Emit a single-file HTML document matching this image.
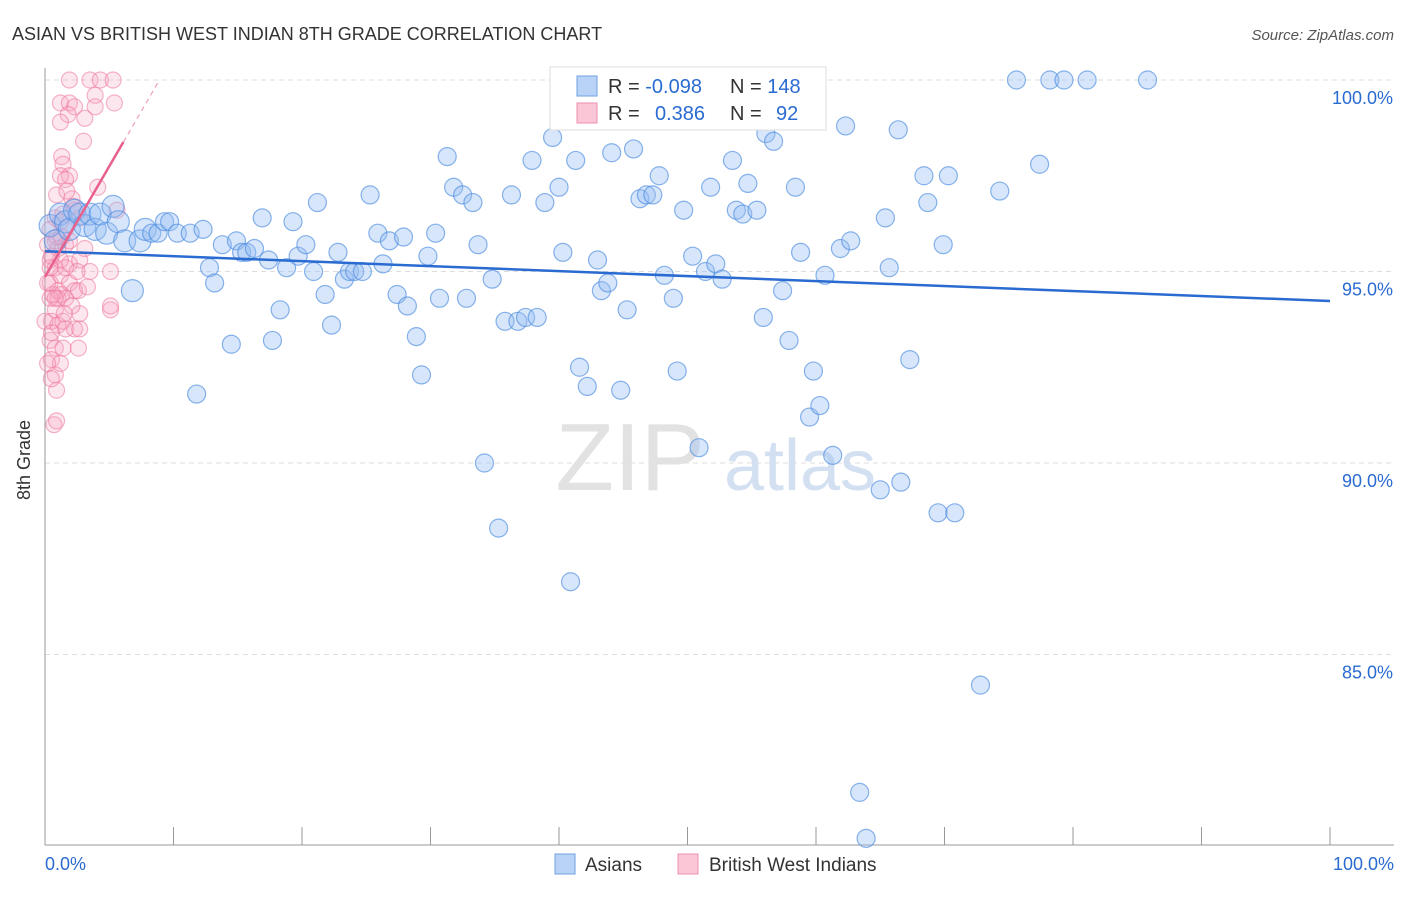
<!DOCTYPE html>
<html><head><meta charset="utf-8"><style>
body{margin:0;background:#fff;font-family:"Liberation Sans",sans-serif}
svg text{font-family:"Liberation Sans",sans-serif}
</style></head><body>
<svg id="chart" width="1406" height="892" viewBox="0 0 1406 892">
<text x="12" y="40" font-size="18" fill="#333">ASIAN VS BRITISH WEST INDIAN 8TH GRADE CORRELATION CHART</text>
<text x="1394" y="40" font-size="15" fill="#555" font-style="italic" text-anchor="end">Source: ZipAtlas.com</text>
<text x="30" y="460" font-size="18" fill="#333" transform="rotate(-90 30 460)" text-anchor="middle">8th Grade</text>
<g id="grid"></g>
<g id="wm"><text x="630" y="490" font-size="96" fill="#e2e2e2" font-family="Liberation Serif" text-anchor="middle">ZIP</text><text x="800" y="490" font-size="72" fill="#d3e0f2" text-anchor="middle">atlas</text></g>
<g id="pts"></g>
<g id="lines"></g>
<g>
<rect x="550" y="67" width="276" height="63" fill="#fff" stroke="#ddd"/>
<rect x="577" y="76" width="20" height="20" fill="#b9d3f6" stroke="#6fa0e6"/>
<rect x="577" y="103" width="20" height="20" fill="#fbc6d6" stroke="#ee8fae"/>
<text x="608" y="93" font-size="20" fill="#333">R = <tspan fill="#2a6bd1">-0.098</tspan></text>
<text x="730" y="93" font-size="20" fill="#333">N = <tspan fill="#2a6bd1">148</tspan></text>
<text x="608" y="120" font-size="20" fill="#333">R = <tspan fill="#2a6bd1" x="655">0.386</tspan></text>
<text x="730" y="120" font-size="20" fill="#333">N = <tspan fill="#2a6bd1" x="776">92</tspan></text>
</g>
<g>
<rect x="555" y="854" width="20" height="20" fill="#b9d3f6" stroke="#6fa0e6"/>
<text x="585" y="871" font-size="19" fill="#333">Asians</text>
<rect x="678" y="854" width="20" height="20" fill="#fbc6d6" stroke="#ee8fae"/>
<text x="709" y="871" font-size="19" fill="#333">British West Indians</text>
</g>
</svg>
<script>
const yTicks=[100,95,90,85];
const yTickLabels=["100.0%","95.0%","90.0%","85.0%"];
const xTickLabels=["0.0%","100.0%"];
const asianX=[0.4,0.8,1.2,1.6,1.9,2.3,2.7,3.1,3.5,3.9,4.3,4.8,5.3,5.7,6.2,6.8,7.4,7.8,8.3,8.8,9.3,9.7,10.3,11.3,11.8,12.3,12.8,13.2,13.8,14.5,14.9,15.3,15.7,16.3,16.9,17.4,17.7,18.3,18.8,19.3,19.7,20.3,20.9,21.2,21.8,22.3,22.8,23.3,23.7,24.1,24.7,25.3,25.9,26.3,26.8,27.4,27.9,28.2,28.9,29.3,29.8,30.4,30.7,31.3,31.8,32.5,32.8,33.3,33.7,34.2,34.8,35.3,35.8,36.3,36.8,37.4,37.9,38.3,38.9,39.5,40.0,40.3,40.9,41.3,41.6,42.2,43.0,43.3,43.8,44.1,44.8,45.3,45.8,46.3,46.8,47.3,47.8,48.2,48.9,49.2,49.7,50.4,50.9,51.4,51.8,52.2,52.7,53.5,53.8,54.3,54.7,55.4,55.9,56.1,56.7,57.4,57.9,58.4,58.8,59.5,59.8,60.3,60.7,61.3,61.9,62.3,62.7,63.9,63.4,65.0,65.4,65.7,66.4,66.6,67.3,68.4,68.7,69.5,69.9,70.3,70.8,72.8,74.3,75.6,77.4,78.2,79.3,81.1,85.8];
const asianY=[96.2,95.8,96.5,96.3,96.1,96.6,96.5,96.2,96.5,96.1,96.5,96.0,96.7,96.3,95.8,94.5,95.8,96.1,96.0,96.0,96.3,96.3,96.0,96.0,91.8,96.1,95.1,94.7,95.7,93.1,95.8,95.5,95.5,95.6,96.4,95.3,93.2,94.0,95.1,96.3,95.4,95.7,95.0,96.8,94.4,93.6,95.5,94.8,95.0,95.0,95.0,97.0,96.0,95.2,95.8,94.4,95.9,94.1,93.3,92.3,95.4,96.0,94.3,98.0,97.2,97.0,94.3,96.8,95.7,90.0,94.8,88.3,93.7,97.0,93.7,93.8,97.9,93.8,96.8,98.5,97.2,95.5,86.9,97.9,92.5,92.0,95.3,94.5,94.7,98.1,91.9,94.0,98.2,96.9,97.0,97.0,97.5,94.9,94.3,92.4,96.6,95.4,90.4,95.0,97.2,95.2,94.8,97.9,96.6,96.5,97.3,96.6,93.8,98.6,98.4,94.5,93.2,97.2,95.5,91.2,92.4,91.5,94.9,90.2,95.6,98.8,95.8,80.2,81.4,89.3,96.4,95.1,98.7,89.5,92.7,97.5,96.8,88.7,95.7,97.5,88.7,84.2,97.1,100,97.8,100,100,100,100];
const bwiX=[1.9,3.5,4.3,5.3,3.9,1.2,1.9,2.3,1.8,3.1,1.2,5.4,1.3,1.4,1.9,1.2,3.0,0.9,1.6,4.1,2.1,0.8,1.4,2.3,5.6,0.4,0.8,1.0,1.6,0.4,0.8,1.2,1.9,2.7,0.4,1.0,1.3,1.9,2.3,3.5,5.1,0.4,0.8,1.6,2.6,5.1,0.5,1.0,1.4,2.7,0.4,0.8,1.6,2.3,2.6,0.5,0.8,0.9,0.7,0.9,0.5,1.2,1.2,1.6,1.9,0.5,3.1,0.2,0.4,0.6,5.1,3.3,1.3,1.6,2.1,0,0.2,0.9,1.2,3.9,1.7,2.2,2.7,1.0,1.5,2.5,0.2,0.5,0.8,2.7,1.4];
const bwiY=[100,100,100,100,99.6,99.4,99.4,99.3,99.1,99.0,98.9,99.4,98.0,97.8,97.5,97.5,98.4,97.0,97.4,97.2,96.9,96.4,96.5,96.6,96.6,96.1,95.8,95.6,95.7,95.3,95.1,94.9,95.2,95.3,94.7,94.5,94.4,94.7,94.5,95.0,95.0,94.3,94.0,94.3,94.5,94.0,93.7,93.6,93.7,93.9,93.2,93.0,93.5,93.5,93.0,92.7,92.3,91.9,91.0,91.1,92.2,92.6,95.3,96.1,95.8,95.4,95.6,95.7,95.1,94.4,94.1,94.6,95.9,95.1,94.1,93.7,94.7,95.9,96.3,99.3,97.1,96.7,96.4,94.3,93.9,95.0,92.6,93.4,94.3,93.5,93.0];
const asianTrend=[95.53,94.23];
const bwiTrend=[94.86,0.577];
const X0=45,X1=1330,Y100=80,PXPER=38.3;
const sx=v=>X0+(X1-X0)*v/100;
const sy=v=>Y100+(100-v)*PXPER;
const NS="http://www.w3.org/2000/svg";
function mk(tag,attrs,parent){const e=document.createElementNS(NS,tag);for(const k in attrs)e.setAttribute(k,attrs[k]);parent.appendChild(e);return e;}
const grid=document.getElementById('grid');
yTicks.forEach((t,i)=>{
 const l=mk('line',{x1:X0,x2:1394,y1:sy(t),y2:sy(t),stroke:'#ddd','stroke-dasharray':'5,4'},grid);
 
 
 const tx=mk('text',{x:1393,y:sy(t)+24,'font-size':18,fill:'#2a6bd1','text-anchor':'end'},grid);
 tx.textContent=yTickLabels[i];
 
 
});
const ax=mk('line',{x1:X0,x2:X0,y1:68,y2:845,stroke:'#999'},grid);


const bx=mk('line',{x1:X0,x2:1394,y1:845,y2:845,stroke:'#999'},grid);


for(let i=0;i<=10;i++){const t=mk('line',{x1:sx(i*10),x2:sx(i*10),y1:827,y2:845,stroke:'#999'},grid);
 
 }
[[0,'start',45],[100,'end',1394]].forEach((d,i)=>{const t=mk('text',{x:d[2],y:870,'font-size':18,fill:'#2a6bd1','text-anchor':d[1]},grid);t.textContent=xTickLabels[i];
 
 });
const pts=document.getElementById('pts');
bwiX.forEach((x,i)=>{const c=mk('circle',{cx:sx(x),cy:sy(bwiY[i]),r:8,fill:'rgba(246,160,190,0.25)',stroke:'rgba(236,120,155,0.55)','stroke-width':1.2},pts);
 
 });
asianX.forEach((x,i)=>{const r=x<8?11:9;const c=mk('circle',{cx:sx(x),cy:sy(asianY[i]),r:r,fill:'rgba(150,190,242,0.38)',stroke:'rgba(75,140,225,0.65)','stroke-width':1.2},pts);
 
 });
const lines=document.getElementById('lines');
const at=mk('line',{x1:sx(0),y1:sy(asianTrend[0]),x2:sx(100),y2:sy(asianTrend[1]),stroke:'#2a6bd1','stroke-width':2.5},lines);


const bt=mk('line',{x1:sx(0),y1:sy(bwiTrend[0]),x2:sx(6.1),y2:sy(bwiTrend[0]+bwiTrend[1]*6.1),stroke:'#e8608c','stroke-width':2.5},lines);


const xe=(100-bwiTrend[0])/bwiTrend[1];
const bd=mk('line',{x1:sx(6.1),y1:sy(bwiTrend[0]+bwiTrend[1]*6.1),x2:sx(xe),y2:sy(100),stroke:'#eea0b8','stroke-width':1.2,'stroke-dasharray':'5,4'},lines);


</script>
</body></html>
